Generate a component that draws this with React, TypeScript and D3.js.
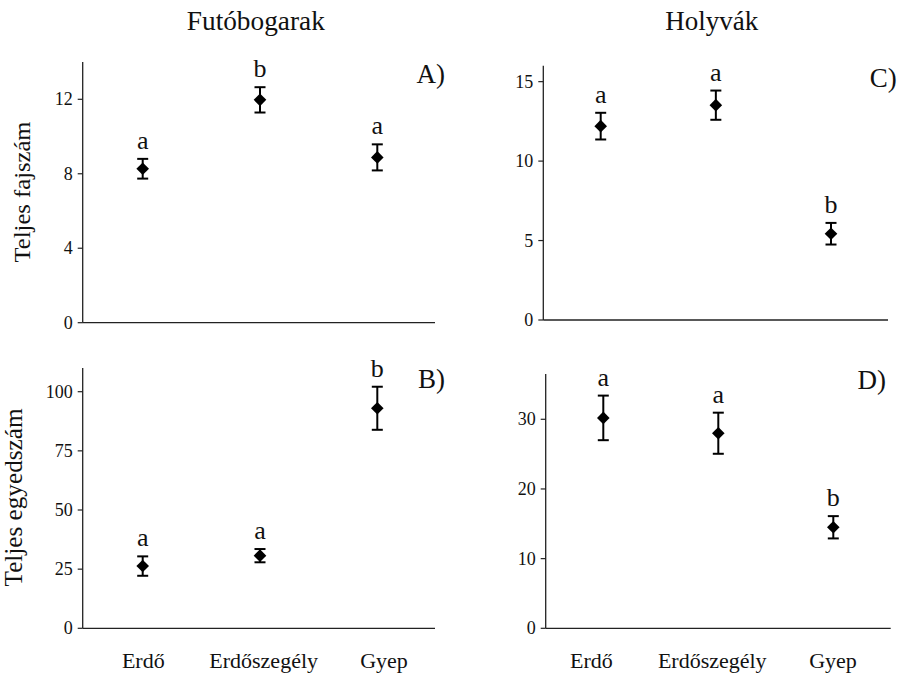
import React from "react";
import * as d3 from "d3";

const categories = ["Erdő", "Erdőszegély", "Gyep"];

const meanA = [8.27, 11.97, 8.88];
const errA = [0.53, 0.68, 0.7];
const lettersA = ["a", "b", "a"];
const ticksA = [0, 4, 8, 12];

const meanB = [26.3, 30.7, 93.0];
const errB = [4.1, 2.8, 9.1];
const lettersB = ["a", "a", "b"];
const ticksB = [0, 25, 50, 75, 100];

const meanC = [12.2, 13.52, 5.43];
const errC = [0.84, 0.92, 0.68];
const lettersC = ["a", "a", "b"];
const ticksC = [0, 5, 10, 15];

const meanD = [30.2, 28.0, 14.5];
const errD = [3.2, 2.95, 1.6];
const lettersD = ["a", "a", "b"];
const ticksD = [0, 10, 20, 30];

const titles = ["Futóbogarak", "Holyvák"];
const yTitles = ["Teljes fajszám", "Teljes egyedszám"];

const FONT = "'Liberation Serif', 'Times New Roman', serif";

type PanelProps = {
  means: number[];
  errs: number[];
  letters: string[];
  ticks: number[];
  max: number;
  left: number;
  right: number;
  zeroY: number;
  pxPerUnit: number;
  pStart: number;
  pEnd: number;
  tag: string;
  tagX: number;
  tagY: number;
};

function Panel(p: PanelProps) {
  const top = p.zeroY - p.max * p.pxPerUnit;
  const y = d3.scaleLinear().domain([0, p.max]).range([p.zeroY, top]);
  const x = d3.scalePoint<string>().domain(categories).range([p.pStart, p.pEnd]);
  const s = 6.3;
  const cap = 5.5;
  return (
    <g>
      <line x1={p.left} x2={p.left} y1={top} y2={p.zeroY} stroke="#222" strokeWidth={1.3} />
      <line x1={p.left} x2={p.right} y1={p.zeroY} y2={p.zeroY} stroke="#222" strokeWidth={1.3} />
      {p.ticks.map((t) => (
        <g key={t}>
          <line x1={p.left - 5} x2={p.left} y1={y(t)} y2={y(t)} stroke="#222" strokeWidth={1.2} />
          <text x={p.left - 10} y={y(t)} dy="0.34em" textAnchor="end" fontSize={18} fontFamily={FONT} fill="#111">
            {t}
          </text>
        </g>
      ))}
      {categories.map((c, i) => {
        const cx = x(c) as number;
        const cy = y(p.means[i]);
        const hi = y(p.means[i] + p.errs[i]);
        const lo = y(p.means[i] - p.errs[i]);
        return (
          <g key={c}>
            <line x1={cx} x2={cx} y1={hi} y2={lo} stroke="#000" strokeWidth={2} />
            <line x1={cx - cap} x2={cx + cap} y1={hi} y2={hi} stroke="#000" strokeWidth={2} />
            <line x1={cx - cap} x2={cx + cap} y1={lo} y2={lo} stroke="#000" strokeWidth={2} />
            <path d={`M${cx},${cy - s}L${cx + s},${cy}L${cx},${cy + s}L${cx - s},${cy}Z`} fill="#000" />
            <text x={cx} y={hi - 10} textAnchor="middle" fontSize={26} fontFamily={FONT} fill="#111">
              {p.letters[i]}
            </text>
          </g>
        );
      })}
      <text x={p.tagX} y={p.tagY} textAnchor="end" fontSize={27} fontFamily={FONT} fill="#111">
        {p.tag}
      </text>
    </g>
  );
}

function XLabels({ start, end }: { start: number; end: number }) {
  const x = d3.scalePoint<string>().domain(categories).range([start, end]);
  return (
    <g>
      {categories.map((c) => (
        <text key={c} x={x(c)} y={668.3} textAnchor="middle" fontSize={22} fontFamily={FONT} fill="#111">
          {c}
        </text>
      ))}
    </g>
  );
}

export default function App() {
  return (
    <svg
      width={902}
      height={677}
      style={{ position: "absolute", left: 0, top: 0, background: "#fff" }}
    >
      <rect width={902} height={677} fill="#fff" />
      <text x={255.8} y={30} textAnchor="middle" fontSize={26.5} fontFamily={FONT} fill="#111"
        textLength={138} lengthAdjust="spacingAndGlyphs">
        {titles[0]}
      </text>
      <text x={711.7} y={30} textAnchor="middle" fontSize={26.5} fontFamily={FONT} fill="#111"
        textLength={93} lengthAdjust="spacingAndGlyphs">
        {titles[1]}
      </text>
      <text
        transform="translate(30,192) rotate(-90)"
        textAnchor="middle"
        fontSize={24}
        fontFamily={FONT}
        fill="#111"
        textLength={141}
        lengthAdjust="spacingAndGlyphs"
      >
        {yTitles[0]}
      </text>
      <text
        transform="translate(22,497.5) rotate(-90)"
        textAnchor="middle"
        fontSize={24.5}
        fontFamily={FONT}
        fill="#111"
        textLength={178}
        lengthAdjust="spacingAndGlyphs"
      >
        {yTitles[1]}
      </text>
      <Panel
        means={meanA} errs={errA} letters={lettersA} ticks={ticksA} max={14}
        left={82.7} right={435} zeroY={322.7} pxPerUnit={18.617}
        pStart={142.7} pEnd={377.3} tag="A)" tagX={445} tagY={83}
      />
      <Panel
        means={meanB} errs={errB} letters={lettersB} ticks={ticksB} max={110}
        left={82.7} right={435} zeroY={628.3} pxPerUnit={2.366}
        pStart={142.7} pEnd={377.3} tag="B)" tagX={445} tagY={388}
      />
      <Panel
        means={meanC} errs={errC} letters={lettersC} ticks={ticksC} max={16}
        left={543.3} right={888} zeroY={320} pxPerUnit={15.89}
        pStart={600.7} pEnd={831} tag="C)" tagX={896.7} tagY={86.7}
      />
      <Panel
        means={meanD} errs={errD} letters={lettersD} ticks={ticksD} max={36.5}
        left={545.7} right={890.7} zeroY={628.3} pxPerUnit={6.967}
        pStart={603.3} pEnd={833.3} tag="D)" tagX={886} tagY={389}
      />
      <XLabels start={143.3} end={384} />
      <XLabels start={591.5} end={833} />
    </svg>
  );
}
